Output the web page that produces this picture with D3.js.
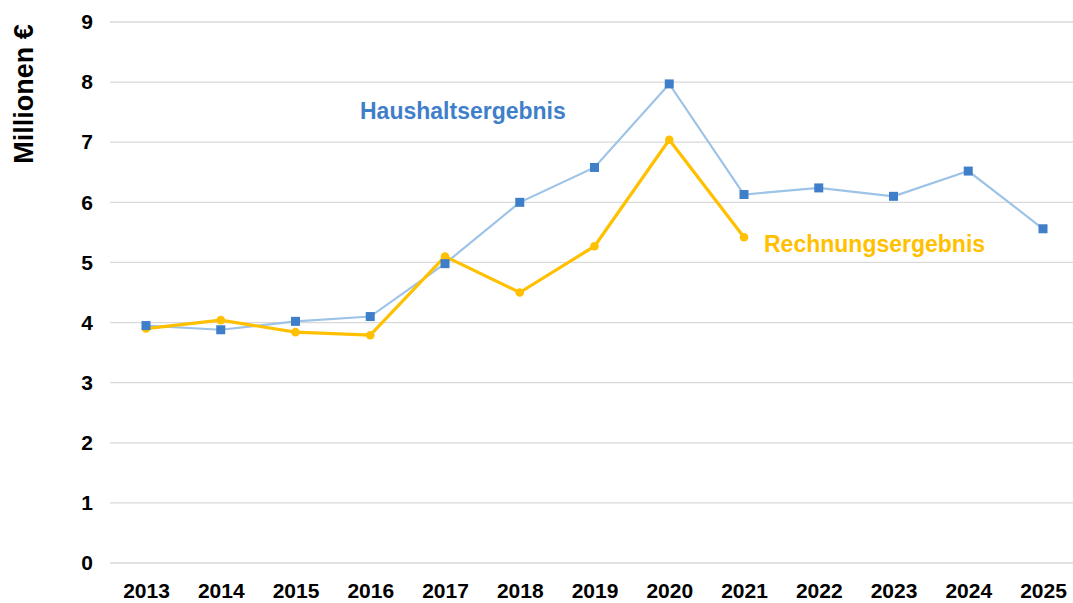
<!DOCTYPE html>
<html>
<head>
<meta charset="utf-8">
<script src="https://cdn.jsdelivr.net/npm/d3@7"></script>
<style>
  body { margin: 0; background: #fff; }
  svg { display: block; font-family: "Liberation Sans", Arial, sans-serif; }
</style>
</head>
<body>
<svg id="chart" width="1073" height="603"></svg>
<script>
const years = ['2013', '2014', '2015', '2016', '2017', '2018', '2019', '2020', '2021', '2022', '2023', '2024', '2025'];
const haushalt = [3.95, 3.88, 4.02, 4.1, 4.98, 6.0, 6.58, 7.97, 6.13, 6.24, 6.1, 6.52, 5.56];
const rechnung = [3.9, 4.04, 3.84, 3.79, 5.1, 4.5, 5.27, 7.04, 5.42];
const yTicks = [0, 1, 2, 3, 4, 5, 6, 7, 8, 9];

const svg = d3.select('#chart');

const x = d3.scalePoint()
  .domain(years)
  .range([146, 1043]);

const y = d3.scaleLinear()
  .domain([0, 9])
  .range([563, 22]);

// gridlines
svg.append('g')
  .selectAll('line')
  .data(yTicks)
  .join('line')
  .attr('x1', 110)
  .attr('x2', 1073)
  .attr('y1', d => y(d))
  .attr('y2', d => y(d))
  .attr('stroke', '#d9d9d9')
  .attr('stroke-width', 1.3);

// y axis labels
const yAxis = svg.append('g')
  .attr('transform', 'translate(93,0)')
  .call(d3.axisLeft(y).tickValues(yTicks).tickSize(0).tickPadding(0).tickFormat(d3.format('d')));
yAxis.select('.domain').remove();
yAxis.selectAll('text')
  .attr('font-size', 21)
  .attr('font-weight', 'bold')
  .attr('fill', '#000')
  .attr('font-family', '"Liberation Sans", Arial, sans-serif');

// x axis labels
const xAxis = svg.append('g')
  .attr('transform', 'translate(0,572)')
  .call(d3.axisBottom(x).tickSize(0).tickPadding(11));
xAxis.select('.domain').remove();
xAxis.selectAll('text')
  .attr('font-size', 21)
  .attr('font-weight', 'bold')
  .attr('fill', '#000')
  .attr('font-family', '"Liberation Sans", Arial, sans-serif');

// y title
svg.append('text')
  .attr('transform', 'translate(33,94) rotate(-90)')
  .attr('text-anchor', 'middle')
  .attr('font-size', 27)
  .attr('font-weight', 'bold')
  .attr('fill', '#000')
  .text('Millionen €');

const line = d3.line()
  .x((d, i) => x(years[i]))
  .y(d => y(d));

// Haushaltsergebnis
svg.append('path')
  .datum(haushalt)
  .attr('d', line)
  .attr('fill', 'none')
  .attr('stroke', '#9dc3e6')
  .attr('stroke-width', 2.2);

// Rechnungsergebnis
svg.append('path')
  .datum(rechnung)
  .attr('d', line)
  .attr('fill', 'none')
  .attr('stroke', '#ffc000')
  .attr('stroke-width', 3.2);

svg.append('g')
  .selectAll('circle')
  .data(rechnung)
  .join('circle')
  .attr('cx', (d, i) => x(years[i]))
  .attr('cy', d => y(d))
  .attr('r', 4.3)
  .attr('fill', '#ffc000');

svg.append('g')
  .selectAll('rect')
  .data(haushalt)
  .join('rect')
  .attr('x', (d, i) => x(years[i]) - 4.5)
  .attr('y', d => y(d) - 4.5)
  .attr('width', 9)
  .attr('height', 9)
  .attr('fill', '#3f7fca');

// series labels
svg.append('text')
  .attr('x', 360)
  .attr('y', 119)
  .attr('font-size', 23)
  .attr('font-weight', 'bold')
  .attr('fill', '#3f7fca')
  .text('Haushaltsergebnis');

svg.append('text')
  .attr('x', 764)
  .attr('y', 252)
  .attr('font-size', 23)
  .attr('font-weight', 'bold')
  .attr('fill', '#ffc000')
  .text('Rechnungsergebnis');
</script>
</body>
</html>
